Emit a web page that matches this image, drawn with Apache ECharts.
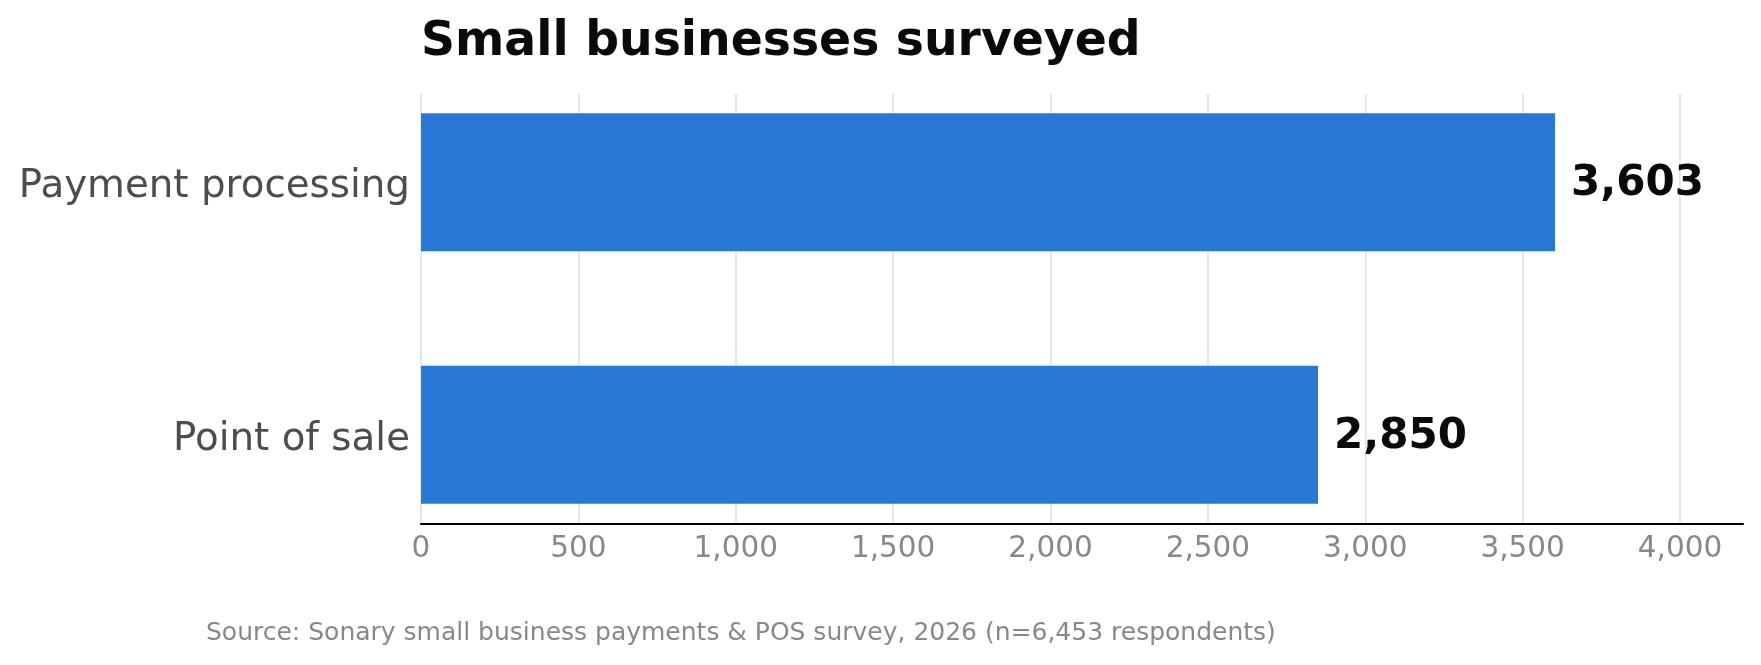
<!DOCTYPE html>
<html>
<head>
<meta charset="utf-8">
<script src="https://cdn.jsdelivr.net/npm/echarts@6/dist/echarts.min.js"></script>
<style>
  html, body { margin: 0; padding: 0; background: #ffffff; }
  #chart { width: 1761px; height: 665px; }
</style>
</head>
<body>
<div id="chart"></div>
<script>
// ---- data ----
const categories = ['Payment processing', 'Point of sale'];
const values = [3603, 2850];
const titleText = 'Small businesses surveyed';
const sourceText = 'Source: Sonary small business payments & POS survey, 2026 (n=6,453 respondents)';
const axisMin = 0;
const axisMax = 4200;
const axisInterval = 500;

const FONT = 'DejaVu Sans';
const fmt = v => Number(v).toLocaleString('en-US');

const chart = echarts.init(document.getElementById('chart'), null, { renderer: 'canvas' });

chart.setOption({
  backgroundColor: '#ffffff',
  animation: false,
  title: [
    {
      text: titleText,
      left: 421,
      top: 19,
      padding: 0,
      textStyle: { fontFamily: FONT, fontSize: 47.3, fontWeight: 'bold', color: '#0a0a0a' }
    },
    {
      text: sourceText,
      left: 206,
      top: 621,
      padding: 0,
      textStyle: { fontFamily: FONT, fontSize: 25, fontWeight: 'normal', color: '#888888' }
    }
  ],
  grid: [
    // grid used for visible value axis and gridlines
    { left: 421, right: 18, top: 94, bottom: 141, containLabel: false },
    // grid used for bars / category labels
    { left: 421, right: 18, top: 56, bottom: 104, containLabel: false }
  ],
  xAxis: [
    {
      gridIndex: 0,
      type: 'value',
      min: axisMin,
      max: axisMax,
      interval: axisInterval,
      axisLine: { show: true, lineStyle: { color: '#000000', width: 2 } },
      axisTick: { show: false },
      axisLabel: {
        show: true,
        fontFamily: FONT,
        fontSize: 29.5,
        color: '#888888',
        margin: 10,
        showMaxLabel: false,
        formatter: v => fmt(v)
      },
      splitLine: { show: true, showMaxLine: false, lineStyle: { color: '#dfdfdb', width: 1.5 } }
    },
    {
      gridIndex: 1,
      type: 'value',
      min: axisMin,
      max: axisMax,
      interval: axisInterval,
      show: false,
      splitLine: { show: false }
    }
  ],
  yAxis: [
    {
      gridIndex: 0,
      type: 'category',
      data: categories,
      inverse: true,
      show: false
    },
    {
      gridIndex: 1,
      type: 'category',
      data: categories,
      inverse: true,
      axisLine: { show: false },
      axisTick: { show: false },
      splitLine: { show: false },
      axisLabel: {
        margin: 11,
        formatter: v => '{c|' + v + '}',
        rich: {
          c: {
            fontFamily: FONT,
            fontSize: 38.8,
            color: '#4d4d4d',
            padding: [10, 0, 0, 0]
          }
        }
      }
    }
  ],
  series: [
    {
      type: 'bar',
      xAxisIndex: 1,
      yAxisIndex: 1,
      data: values,
      barWidth: 138,
      itemStyle: { color: '#2a78d6' },
      label: {
        show: true,
        position: 'right',
        distance: 16,
        formatter: p => '{v|' + fmt(p.value) + '}',
        rich: {
          v: {
            fontFamily: FONT,
            fontSize: 42,
            fontWeight: 'bold',
            color: '#0a0a0a',
            padding: [4, 0, 0, 0]
          }
        }
      }
    }
  ]
});
</script>
</body>
</html>
